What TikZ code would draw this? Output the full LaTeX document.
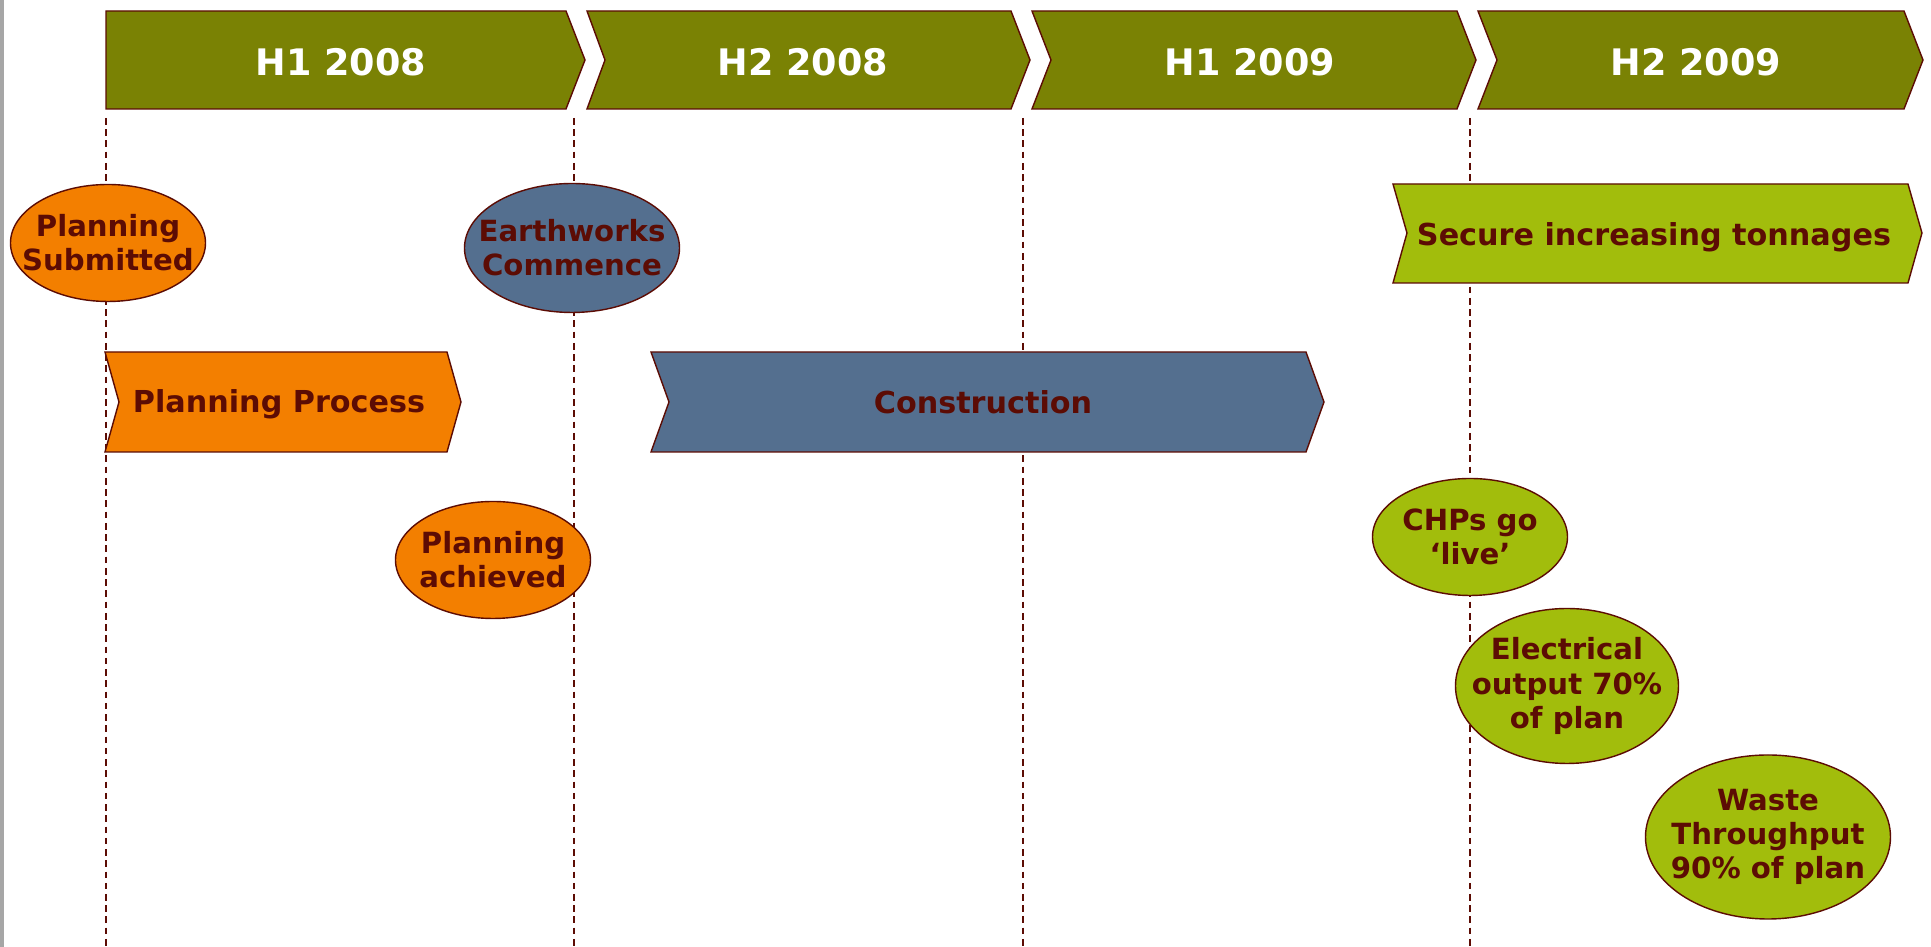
\documentclass[tikz,border=0pt]{standalone}
\usepackage{fontspec}
\setmainfont{DejaVu Sans}
\usetikzlibrary{shapes.geometric}

\definecolor{hdrolive}{RGB}{122,130,4}
\definecolor{planorange}{RGB}{243,127,0}
\definecolor{buildblue}{RGB}{84,111,143}
\definecolor{opslime}{RGB}{162,189,12}
\definecolor{edgered}{RGB}{92,12,4}

\tikzset{
  half/.style={draw=edgered, line width=0.4pt, fill=hdrolive},
  halftext/.style={text=white, font=\fontsize{10.4}{12}\selectfont\bfseries},
  task/.style={draw=edgered, line width=0.4pt},
  tasktext/.style={text=edgered, font=\fontsize{8.6}{9.7}\selectfont\bfseries, anchor=base},
  milestone/.style={ellipse, draw=edgered, line width=0.4pt, inner sep=0pt},
  mstext/.style={text=edgered, font=\fontsize{8.3}{9.7}\selectfont\bfseries, align=center},
  marker/.style={draw=edgered, line width=0.3pt, dash pattern=on 1.9pt off 1.3pt},
}

\begin{document}
\begin{tikzpicture}[x=0.1mm, y=-0.1mm]
  \useasboundingbox[fill=white] (0,0) rectangle (1931,947);
  \draw[gray!70, line width=0.9pt] (2,0) -- (2,947);

  % dashed half-year markers
  \foreach \x in {106,574,1023,1470}
    \draw[marker] (\x,118) -- (\x,947);

  % half-year headers
  \draw[half] (106,11) -- (566,11) -- (585,60) -- (566,109) -- (106,109) -- cycle;
  \node[halftext] (h1a) at (341,62) {H1 2008};
  \draw[half] (587,11) -- (1011,11) -- (1030,60) -- (1011,109) -- (587,109) -- (605,60) -- cycle;
  \node[halftext] (h2a) at (803,62) {H2 2008};
  \draw[half] (1032,11) -- (1457,11) -- (1476,60) -- (1457,109) -- (1032,109) -- (1051,60) -- cycle;
  \node[halftext] (h1b) at (1250,62) {H1 2009};
  \draw[half] (1478,11) -- (1904,11) -- (1923,60) -- (1904,109) -- (1478,109) -- (1497,60) -- cycle;
  \node[halftext] (h2b) at (1696,62) {H2 2009};

  % tasks
  \draw[task, fill=opslime] (1393,184) -- (1908,184) -- (1922,233) -- (1908,283) -- (1393,283) -- (1407,233) -- cycle;
  \node[tasktext] (tonnage) at (1654,246) {Secure increasing tonnages};
  \draw[task, fill=planorange] (105,352) -- (447,352) -- (461,402) -- (447,452) -- (105,452) -- (119,402) -- cycle;
  \node[tasktext] (process) at (279,413) {Planning Process};
  \draw[task, fill=buildblue] (651,352) -- (1306,352) -- (1324,402) -- (1306,452) -- (651,452) -- (669,402) -- cycle;
  \node[tasktext] (build) at (983,414) {Construction};

  % milestones
  \node[milestone, fill=planorange, minimum width=19.5mm, minimum height=11.7mm] (submitted) at (108,243) {};
  \node[mstext] at (submitted) {Planning\\Submitted};
  \node[milestone, fill=buildblue, minimum width=21.5mm, minimum height=12.9mm] (earthworks) at (572,248) {};
  \node[mstext] at (earthworks) {Earthworks\\Commence};
  \node[milestone, fill=planorange, minimum width=19.5mm, minimum height=11.7mm] (achieved) at (493,560) {};
  \node[mstext] at (achieved) {Planning\\achieved};
  \node[milestone, fill=opslime, minimum width=19.5mm, minimum height=11.7mm] (chps) at (1470,537) {};
  \node[mstext] at (chps) {CHPs go\\‘live’};
  \node[milestone, fill=opslime, minimum width=22.3mm, minimum height=15.5mm] (output) at (1567,686) {};
  \node[mstext] at (output) {Electrical\\output 70\%\\of plan};
  \node[milestone, fill=opslime, minimum width=24.5mm, minimum height=16.4mm] (waste) at (1768,837) {};
  \node[mstext] at (waste) {Waste\\Throughput\\90\% of plan};
\end{tikzpicture}
\end{document}
